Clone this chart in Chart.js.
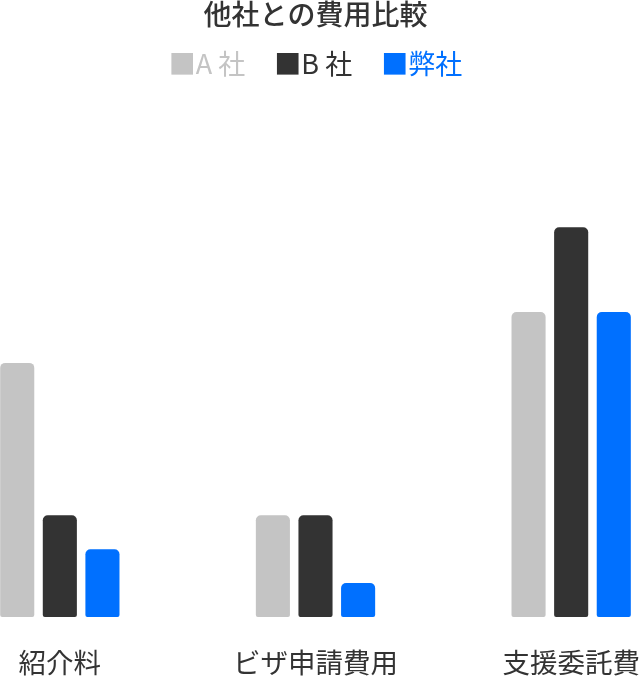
<!DOCTYPE html>
<html lang="ja">
<head>
<meta charset="utf-8">
<script src="https://cdn.jsdelivr.net/npm/chart.js@4/dist/chart.umd.min.js"></script>
<style>
    html, body { margin: 0; padding: 0; background: #fff; overflow: hidden; }
    body { width: 640px; height: 676px; position: relative; }
    .chart-wrap { position: absolute; left: -68px; top: 0; width: 767px; height: 700px; }
</style>
</head>
<body>
<div class="chart-wrap"><canvas id="chart"></canvas></div>
<script>
const categories = ['紹介料', 'ビザ申請費用', '支援委託費'];
const seriesNames = ['A 社', 'B 社', '弊社'];
const companyA = [15, 6, 18];
const companyB = [6, 6, 23];
const ourCompany = [4, 2, 18];
const seriesColors = ['#c4c4c4', '#333333', '#0070ff'];

const FONT = '"Noto Sans CJK JP", "Noto Sans", sans-serif';

const datasets = [companyA, companyB, ourCompany].map((values, i) => ({
    label: seriesNames[i],
    data: values,
    backgroundColor: seriesColors[i],
    borderWidth: 0,
    borderSkipped: false,
    borderRadius: { topLeft: 5, topRight: 5, bottomLeft: 2, bottomRight: 2 },
    categoryPercentage: 0.5,
    barPercentage: 0.8
}));

new Chart(document.getElementById('chart'), {
    type: 'bar',
    data: { labels: categories, datasets: datasets },
    options: {
        responsive: true,
        maintainAspectRatio: false,
        animation: false,
        layout: { padding: { top: -2 } },
        plugins: {
            tooltip: { enabled: false },
            title: {
                display: true,
                text: '他社との費用比較',
                color: '#333333',
                font: { family: FONT, size: 28, weight: '500' },
                // legend padding is big (for the item gaps), pull it back up
                padding: { top: 0, bottom: -10 }
            },
            legend: {
                display: true,
                labels: {
                    font: { family: FONT, size: 27 },
                    // text starts right at the item's left edge
                    boxWidth: -13.5,
                    boxHeight: 0,
                    padding: 29,
                    generateLabels: (c) => c.data.datasets.map((ds, i) => ({
                        text: '■' + ds.label,
                        fontColor: ds.backgroundColor,
                        fillStyle: 'rgba(0,0,0,0)',
                        strokeStyle: 'rgba(0,0,0,0)',
                        lineWidth: 0,
                        hidden: false,
                        datasetIndex: i
                    }))
                }
            }
        },
        scales: {
            x: {
                grid: { display: false },
                border: { display: false },
                ticks: {
                    color: '#333333',
                    font: { family: FONT, size: 27.5 },
                    padding: 21
                }
            },
            y: {
                display: false,
                min: 0,
                max: 31.25
            }
        }
    }
});
</script>
</body>
</html>
